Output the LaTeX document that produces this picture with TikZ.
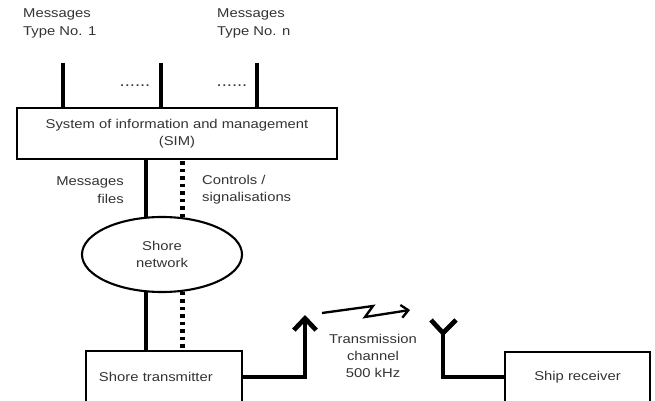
\documentclass[tikz,border=0pt]{standalone}
\usepackage{fontspec}
\setmainfont{Liberation Sans}[FakeStretch=1.16]
\usetikzlibrary{shapes.geometric,arrows.meta}

\begin{document}
\begin{tikzpicture}[x=0.03cm,y=-0.03cm,
  txt/.style={text=black!80,font=\fontsize{10.9}{14.8}\selectfont,inner sep=0pt},
  blockbox/.style={draw,line width=2.4pt,inner sep=0pt,txt},
  wire/.style={line width=4pt},
  ctrlwire/.style={line width=4pt,dash pattern=on 3pt off 3.4pt}]

% Frame
\useasboundingbox (0,0) rectangle (655,401);
\clip (0,0) rectangle (655,401);

% Blocks
\node[blockbox,minimum width=9.6cm,minimum height=1.53cm,align=center] (sim) at (177,133.5)
  {System of information and management\\(SIM)};
\node[blockbox,ellipse,line width=1.8pt,minimum width=4.8cm,minimum height=2.25cm,align=center] (net) at (162,254.5)
  {Shore\\network};
\node[blockbox,minimum width=4.68cm,minimum height=1.56cm,inner xsep=0.39cm,text width=3.9cm,align=left] (tx) at (164,377)
  {Shore transmitter};
\node[blockbox,minimum width=4.35cm,minimum height=1.5cm] (rx) at (577.5,377) {Ship receiver};

% Incoming message types
\coordinate (in1) at (63,63);
\coordinate (in2) at (161,63);
\coordinate (in3) at (257,63);
\foreach \c in {in1,in2,in3}
  \draw[wire] (\c) -- (\c |- sim.north);

% Labels
\node[txt,align=left,anchor=west] (lbl1) at (23,23.5) {Messages\\Type No. 1};
\node[txt,align=left,anchor=west] (lbln) at (217,23.5) {Messages\\Type No. n};
\node[txt,font=\fontsize{13.5}{14}\selectfont] (dots1) at (135,86) {......};
\node[txt,font=\fontsize{13.5}{14}\selectfont] (dots2) at (232,86) {......};
\node[txt,align=right,anchor=east] (lblfiles) at (124,190) {Messages\\files};
\node[txt,align=left,anchor=west] (lblctrl) at (202,190) {Controls /\\signalisations};
\node[txt,align=center] (lblchan) at (373,356) {Transmission\\channel\\500 kHz};

% SIM -- network -- transmitter
\draw[wire] (net.113) -- (net.113 |- sim.south);
\draw[ctrlwire] (net.61) -- (net.61 |- sim.south);
\draw[wire] (net.-113) -- (net.-113 |- tx.north);
\draw[ctrlwire] (net.-61) -- (net.-61 |- tx.north);

% Transmitting antenna
\coordinate (txant) at (305,315);
\draw[wire,-{Straight Barb[length=10pt,width=19pt]}] (tx.east) -| (txant);

% Radio link
\draw[line width=2pt,-{Straight Barb[length=6pt,width=11pt]}]
  (322,313) -- (373,306) -- (365,317) -- (410,310);

% Receiving antenna
\coordinate (rxant) at (443,333);
\draw[wire] (rx.west) -| (rxant);
\draw[wire] (431,320) -- (rxant) -- (456,320);

\end{tikzpicture}
\end{document}
